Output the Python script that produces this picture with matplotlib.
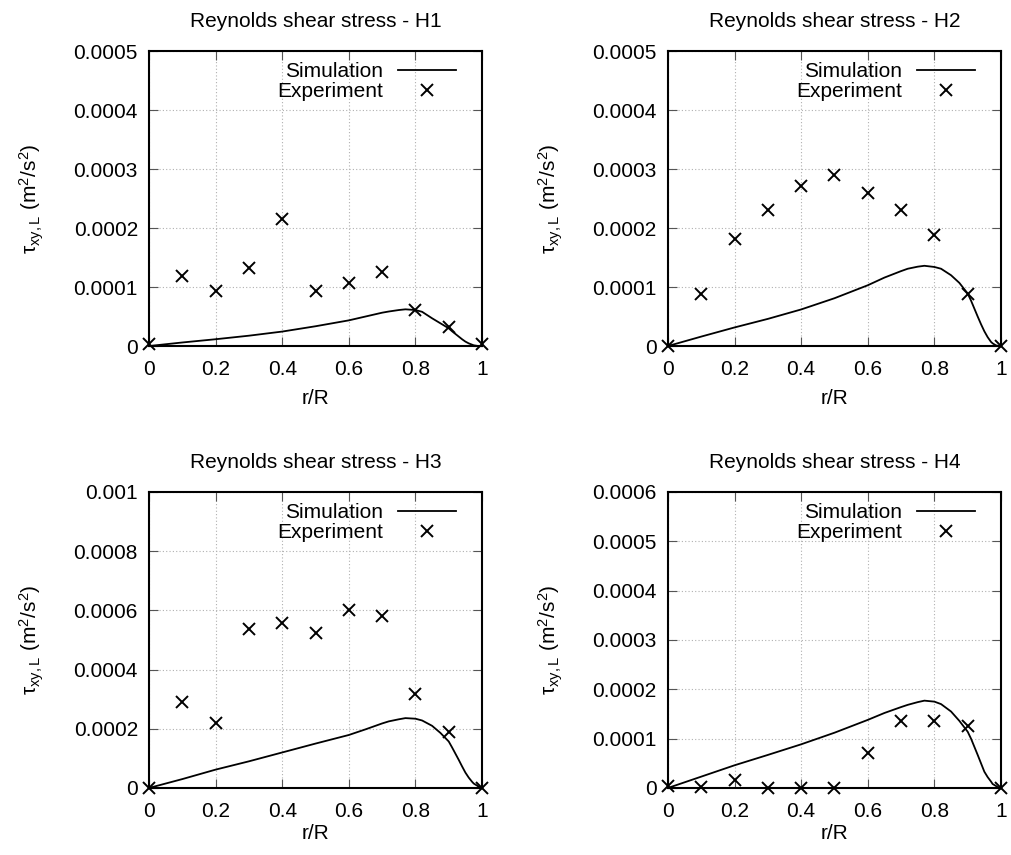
import matplotlib
matplotlib.use('Agg')
import matplotlib.pyplot as plt
from matplotlib.ticker import FuncFormatter

plt.rcParams['font.family'] = ['Liberation Sans', 'DejaVu Sans']
plt.rcParams['mathtext.default'] = 'regular'

# experiment points, r/R = 0, 0.1, ..., 1
r_exp = [0.0, 0.1, 0.2, 0.3, 0.4, 0.5, 0.6, 0.7, 0.8, 0.9, 1.0]
exp_h1 = [3e-6, 1.19e-4, 9.4e-5, 1.33e-4, 2.15e-4, 9.3e-5, 1.07e-4, 1.25e-4, 6.1e-5, 3.3e-5, 3e-6]
exp_h2 = [0.0, 8.8e-5, 1.81e-4, 2.31e-4, 2.71e-4, 2.9e-4, 2.6e-4, 2.3e-4, 1.88e-4, 8.9e-5, 0.0]
exp_h3 = [0.0, 2.92e-4, 2.21e-4, 5.36e-4, 5.58e-4, 5.25e-4, 6.01e-4, 5.81e-4, 3.17e-4, 1.9e-4, 0.0]
exp_h4 = [3e-6, 2e-6, 1.7e-5, 0.0, 0.0, 0.0, 7.1e-5, 1.36e-4, 1.36e-4, 1.26e-4, 0.0]

# simulation profiles
r_sim = [0.0, 0.1, 0.2, 0.3, 0.4, 0.5, 0.6, 0.65, 0.7, 0.72, 0.75, 0.77, 0.8, 0.82, 0.85, 0.875, 0.9, 0.91,
         0.93, 0.94, 0.95, 0.96, 0.97, 0.975, 0.985, 0.99, 1.0]
sim_h1 = [0.0, 6e-6, 1.15e-5, 1.75e-5, 2.45e-5, 3.35e-5, 4.35e-5, 5.0e-5, 5.65e-5, 5.85e-5, 6.1e-5, 6.22e-5,
          6.1e-5, 5.8e-5, 4.7e-5, 3.85e-5, 3.0e-5, 2.5e-5, 1.6e-5, 1.15e-5, 7.5e-6, 4.5e-6, 2.3e-6, 1.2e-6,
          3e-7, 0.0, 0.0]
sim_h2 = [0.0, 1.6e-5, 3.15e-5, 4.6e-5, 6.2e-5, 8.1e-5, 1.03e-4, 1.16e-4, 1.27e-4, 1.31e-4, 1.345e-4, 1.36e-4,
          1.34e-4, 1.31e-4, 1.2e-4, 1.07e-4, 8.9e-5, 7.7e-5, 5.0e-5, 3.7e-5, 2.5e-5, 1.5e-5, 7e-6, 4.5e-6,
          1e-6, 5e-7, 0.0]
sim_h3 = [0.0, 3.0e-5, 6.2e-5, 9.0e-5, 1.2e-4, 1.5e-4, 1.79e-4, 1.98e-4, 2.18e-4, 2.25e-4, 2.32e-4, 2.36e-4,
          2.34e-4, 2.28e-4, 2.1e-4, 1.86e-4, 1.57e-4, 1.37e-4, 9.5e-5, 7.3e-5, 5.2e-5, 3.5e-5, 2.1e-5, 1.5e-5,
          8e-6, 4e-6, 0.0]
sim_h4 = [0.0, 2.3e-5, 4.6e-5, 6.7e-5, 8.85e-5, 1.12e-4, 1.38e-4, 1.52e-4, 1.64e-4, 1.685e-4, 1.74e-4, 1.77e-4,
          1.75e-4, 1.7e-4, 1.55e-4, 1.36e-4, 1.14e-4, 1.0e-4, 6.7e-5, 5.0e-5, 3.3e-5, 2.2e-5, 1.3e-5, 8e-6,
          4e-6, 1.5e-6, 0.0]

titles = ['Reynolds shear stress - H1', 'Reynolds shear stress - H2',
          'Reynolds shear stress - H3', 'Reynolds shear stress - H4']
x_ticks = [0, 0.2, 0.4, 0.6, 0.8, 1.0]
y_ticks_h1 = [0, 0.0001, 0.0002, 0.0003, 0.0004, 0.0005]
y_ticks_h3 = [0, 0.0002, 0.0004, 0.0006, 0.0008, 0.001]
y_ticks_h4 = [0, 0.0001, 0.0002, 0.0003, 0.0004, 0.0005, 0.0006]

panels = [
    (sim_h1, exp_h1, y_ticks_h1),
    (sim_h2, exp_h2, y_ticks_h1),
    (sim_h3, exp_h3, y_ticks_h3),
    (sim_h4, exp_h4, y_ticks_h4),
]
rects = [
    [0.1474, 0.5953, 0.3294, 0.3450],
    [0.6607, 0.5953, 0.3294, 0.3450],
    [0.1474, 0.0784, 0.3294, 0.3462],
    [0.6607, 0.0784, 0.3294, 0.3462],
]
xlabel_pads = [7, 7, 2, 2]

fig = plt.figure(figsize=(10.11, 8.55), dpi=100)
fmt = FuncFormatter(lambda v, pos: f'{v:g}')
fs = 15

for (sim, exp, yt), rect, title, xpad in zip(panels, rects, titles, xlabel_pads):
    ax = fig.add_axes(rect)
    ax.plot(r_sim, sim, color='black', lw=1.3, label='Simulation')
    ax.plot(r_exp, exp, linestyle='none', marker='x', color='black', ms=8, mew=1.4,
            label='Experiment', clip_on=False, zorder=5)
    ax.set_xlim(0, 1)
    ax.set_ylim(yt[0], yt[-1])
    ax.set_xticks(x_ticks)
    ax.set_yticks(yt)
    ax.xaxis.set_major_formatter(fmt)
    ax.yaxis.set_major_formatter(fmt)
    ax.tick_params(direction='in', top=True, right=True, length=6.5, width=0.8,
                   labelsize=fs, color='#555555')
    ax.tick_params(axis='x', pad=10)
    ax.tick_params(axis='y', pad=8)
    ax.grid(True, linestyle=(0, (1, 2)), color='#b0b0b0', lw=0.8)
    for s in ax.spines.values():
        s.set_linewidth(1.5)
    ax.set_title(title, fontsize=fs, pad=17)
    ax.set_xlabel('r/R', fontsize=fs, labelpad=xpad)
    ax.set_ylabel(r'$\tau_{xy,L}$ (m$^2$/s$^2$)', fontsize=fs, labelpad=20)
    ax.legend(loc='upper right', bbox_to_anchor=(0.922, 0.962), frameon=False,
              markerfirst=False, fontsize=fs, handlelength=2.8, handletextpad=0.7,
              labelspacing=0.05, numpoints=1, borderaxespad=0, borderpad=0)

fig.savefig('out.png', dpi=100)
